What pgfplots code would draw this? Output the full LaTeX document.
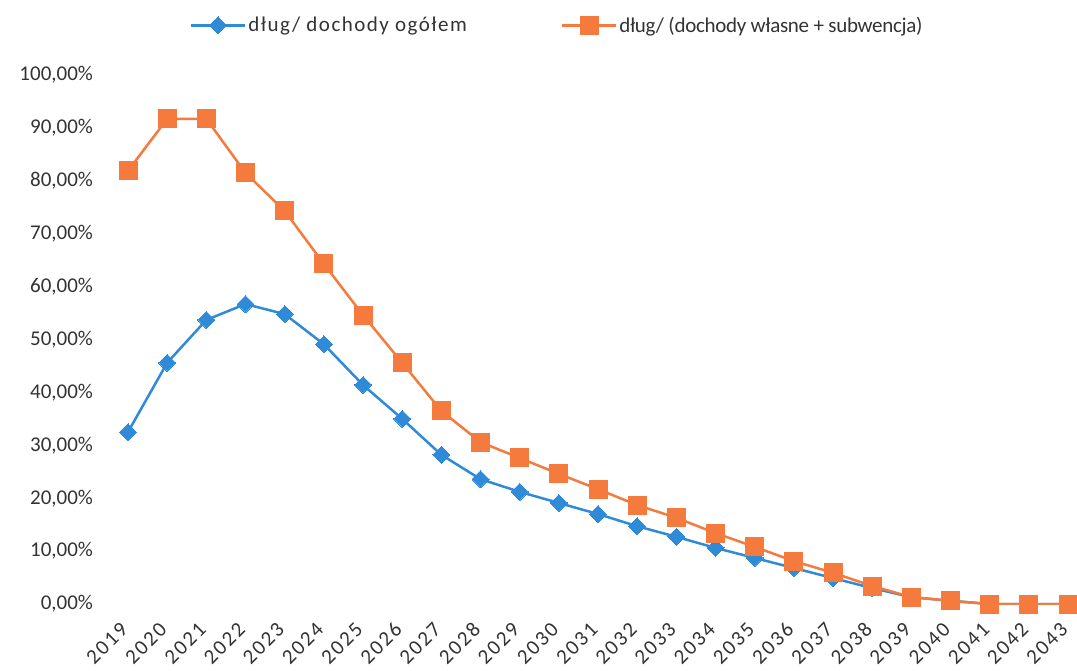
\documentclass[border=0pt]{standalone}
\usepackage{pgfplots}
\pgfplotsset{compat=1.18}
\usepackage{fontspec}
\setmainfont{Carlito}
\definecolor{cblue}{HTML}{2F8AD8}
\definecolor{corange}{HTML}{F47B3D}
\definecolor{ctext}{HTML}{333333}
\begin{document}
\begin{tikzpicture}
\useasboundingbox (-104.5pt,-66pt) rectangle (972.5pt,604pt);
\begin{axis}[
  at={(0pt,0pt)}, anchor=south west,
  scale only axis,
  width=971.4pt, height=529pt,
  xmin=-0.6, xmax=24.2,
  ymin=0, ymax=100,
  axis line style={draw=none},
  tick style={draw=none},
  xtick={0,...,24},
  xticklabels={2019,2020,2021,2022,2023,2024,2025,2026,2027,2028,2029,2030,2031,2032,2033,2034,2035,2036,2037,2038,2039,2040,2041,2042,2043},
  xticklabel style={rotate=45, anchor=east, font=\fontsize{21}{24}\selectfont\addfontfeature{LetterSpace=10}, text=ctext, yshift=-13pt, xshift=-15pt},
  ytick={0,10,...,100},
  yticklabels={0{,}00\%,10{,}00\%,20{,}00\%,30{,}00\%,40{,}00\%,50{,}00\%,60{,}00\%,70{,}00\%,80{,}00\%,90{,}00\%,100{,}00\%},
  yticklabel style={font=\fontsize{21}{24}\selectfont, text=ctext, xshift=-8pt},
  legend columns=2,
  legend style={draw=none, fill=none, at={(rel axis cs:0.466,1.094)}, anchor=center,
    font=\fontsize{21}{24}\selectfont, text=ctext,
    /tikz/every even column/.append style={column sep=92pt}},
  legend image code/.code={
    \draw[#1, mark repeat=2, mark phase=2] plot coordinates {(0pt,0pt) (27pt,0pt) (54pt,0pt)};
  },
]
\addplot[color=cblue, line width=2.5pt, mark=square*, mark size=6pt, mark options={rotate=45, line width=0pt}] coordinates {
(0,32.5) (1,45.6) (2,53.7) (3,56.7) (4,54.8) (5,49.1) (6,41.4) (7,35.0) (8,28.2) (9,23.6)
(10,21.2) (11,19.1) (12,17.0) (13,14.7) (14,12.7) (15,10.6) (16,8.7) (17,6.8) (18,4.9) (19,3.0)
(20,1.3) (21,0.6) (22,0.0) (23,0.0) (24,0.0)};
\addlegendentry{\addfontfeature{LetterSpace=7}dług/ dochody ogółem}
\addplot[color=corange, line width=2.5pt, mark=square*, mark size=9pt, mark options={line width=0pt}] coordinates {
(0,81.9) (1,91.7) (2,91.7) (3,81.5) (4,74.3) (5,64.3) (6,54.6) (7,45.6) (8,36.5) (9,30.6)
(10,27.6) (11,24.6) (12,21.7) (13,18.7) (14,16.3) (15,13.4) (16,10.8) (17,8.1) (18,5.9) (19,3.4)
(20,1.3) (21,0.6) (22,0.0) (23,0.0) (24,0.0)};
\addlegendentry{\addfontfeature{LetterSpace=-1.5}dług/ (dochody własne + subwencja)}
\end{axis}
\end{tikzpicture}
\end{document}
